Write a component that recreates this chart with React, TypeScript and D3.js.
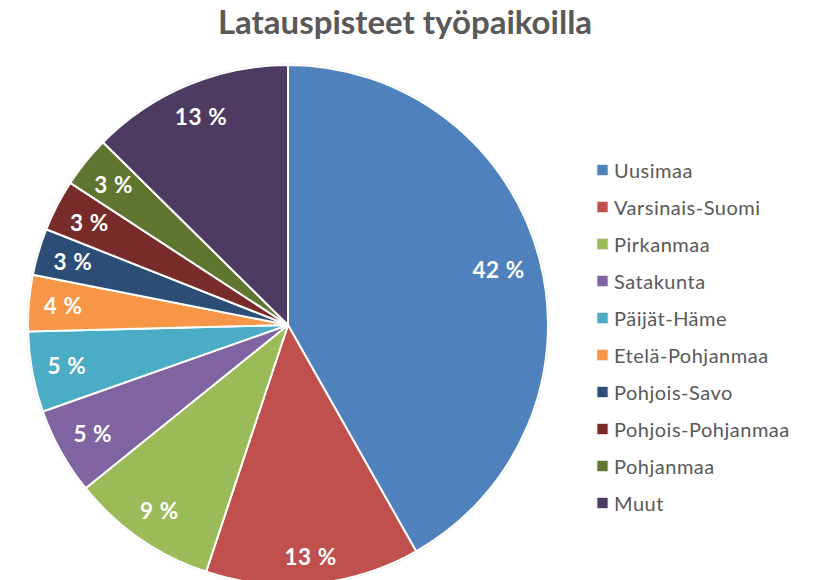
import React, { useEffect, useRef } from "react";
import * as d3 from "d3";

const categories = [
  "Uusimaa",
  "Varsinais-Suomi",
  "Pirkanmaa",
  "Satakunta",
  "Päijät-Häme",
  "Etelä-Pohjanmaa",
  "Pohjois-Savo",
  "Pohjois-Pohjanmaa",
  "Pohjanmaa",
  "Muut",
];
const values = [41.8, 13.3, 9.1, 5.4, 5.0, 3.5, 2.9, 3.2, 3.2, 12.6];
const colors = [
  "#4F81BD",
  "#C0504D",
  "#9BBB59",
  "#8064A2",
  "#4BACC6",
  "#F79646",
  "#2C4D75",
  "#772C2A",
  "#5F7530",
  "#4D3B62",
];
const title = "Latauspisteet työpaikoilla";

const W = 817;
const H = 580;
const CX = 288;
const CY = 325;
const R = 260;
const FONT = "Lato, 'Open Sans', 'DejaVu Sans', sans-serif";

export default function App() {
  const ref = useRef<SVGSVGElement>(null);
  useEffect(() => {
    const svg = d3.select(ref.current);
    svg.selectAll("*").remove();

    svg
      .append("text")
      .attr("x", 405)
      .attr("y", 34)
      .attr("text-anchor", "middle")
      .attr("font-family", FONT)
      .attr("font-weight", 700)
      .attr("font-size", 33)
      .attr("fill", "#595959")
      .text(title);

    const data = categories.map((c, i) => ({ name: c, value: values[i], color: colors[i] }));
    const pie = d3
      .pie<any>()
      .sort(null)
      .value((d) => d.value);
    const arcs = pie(data);
    const arc = d3.arc<any>().innerRadius(0).outerRadius(R);

    const g = svg.append("g").attr("transform", `translate(${CX},${CY})`);
    g.append("circle").attr("r", R + 1).attr("fill", "none").attr("stroke", "#e4e4e4").attr("stroke-width", 1);
    g.selectAll("path")
      .data(arcs)
      .enter()
      .append("path")
      .attr("d", arc as any)
      .attr("fill", (d: any) => d.data.color)
      .attr("stroke", "#fff")
      .attr("stroke-width", 2)
      .attr("stroke-linejoin", "round");

    const fs = 22.5;
    arcs.forEach((a: any) => {
      const label = `${Math.round(a.data.value)} %`;
      const mid = (a.startAngle + a.endAngle) / 2;
      const t = g
        .append("text")
        .attr("font-family", FONT)
        .attr("font-weight", 700)
        .attr("font-size", fs)
        .attr("letter-spacing", 0.6)
        .attr("fill", "#fff")
        .attr("text-anchor", "middle")
        .attr("dominant-baseline", "central")
        .text(label);
      const w = (t.node() as SVGTextElement).getComputedTextLength();
      const hw = w / 2;
      const hh = fs * 0.5;
      const ext = Math.abs(Math.sin(mid)) * hw + Math.abs(Math.cos(mid)) * hh;
      const dist = R - ext - 14;
      t.attr("x", Math.sin(mid) * dist).attr("y", -Math.cos(mid) * dist);
    });

    const lg = svg.append("g");
    const y0 = 170;
    const step = 37;
    data.forEach((d, i) => {
      const y = y0 + i * step;
      lg.append("rect")
        .attr("x", 597)
        .attr("y", y - 5.5)
        .attr("width", 11)
        .attr("height", 11)
        .attr("fill", d.color)
        .attr("stroke", "#e8e8e8")
        .attr("stroke-width", 0.8);
      lg.append("text")
        .attr("x", 614)
        .attr("y", y)
        .attr("dominant-baseline", "central")
        .attr("font-family", FONT)
        .attr("font-size", 20)
        .attr("letter-spacing", 0.5)
        .attr("fill", "#595959")
        .text(d.name);
    });
  }, []);
  return (
    <svg
      ref={ref}
      width={W}
      height={H}
      style={{ position: "absolute", left: 0, top: 0, background: "#fff" }}
    />
  );
}
